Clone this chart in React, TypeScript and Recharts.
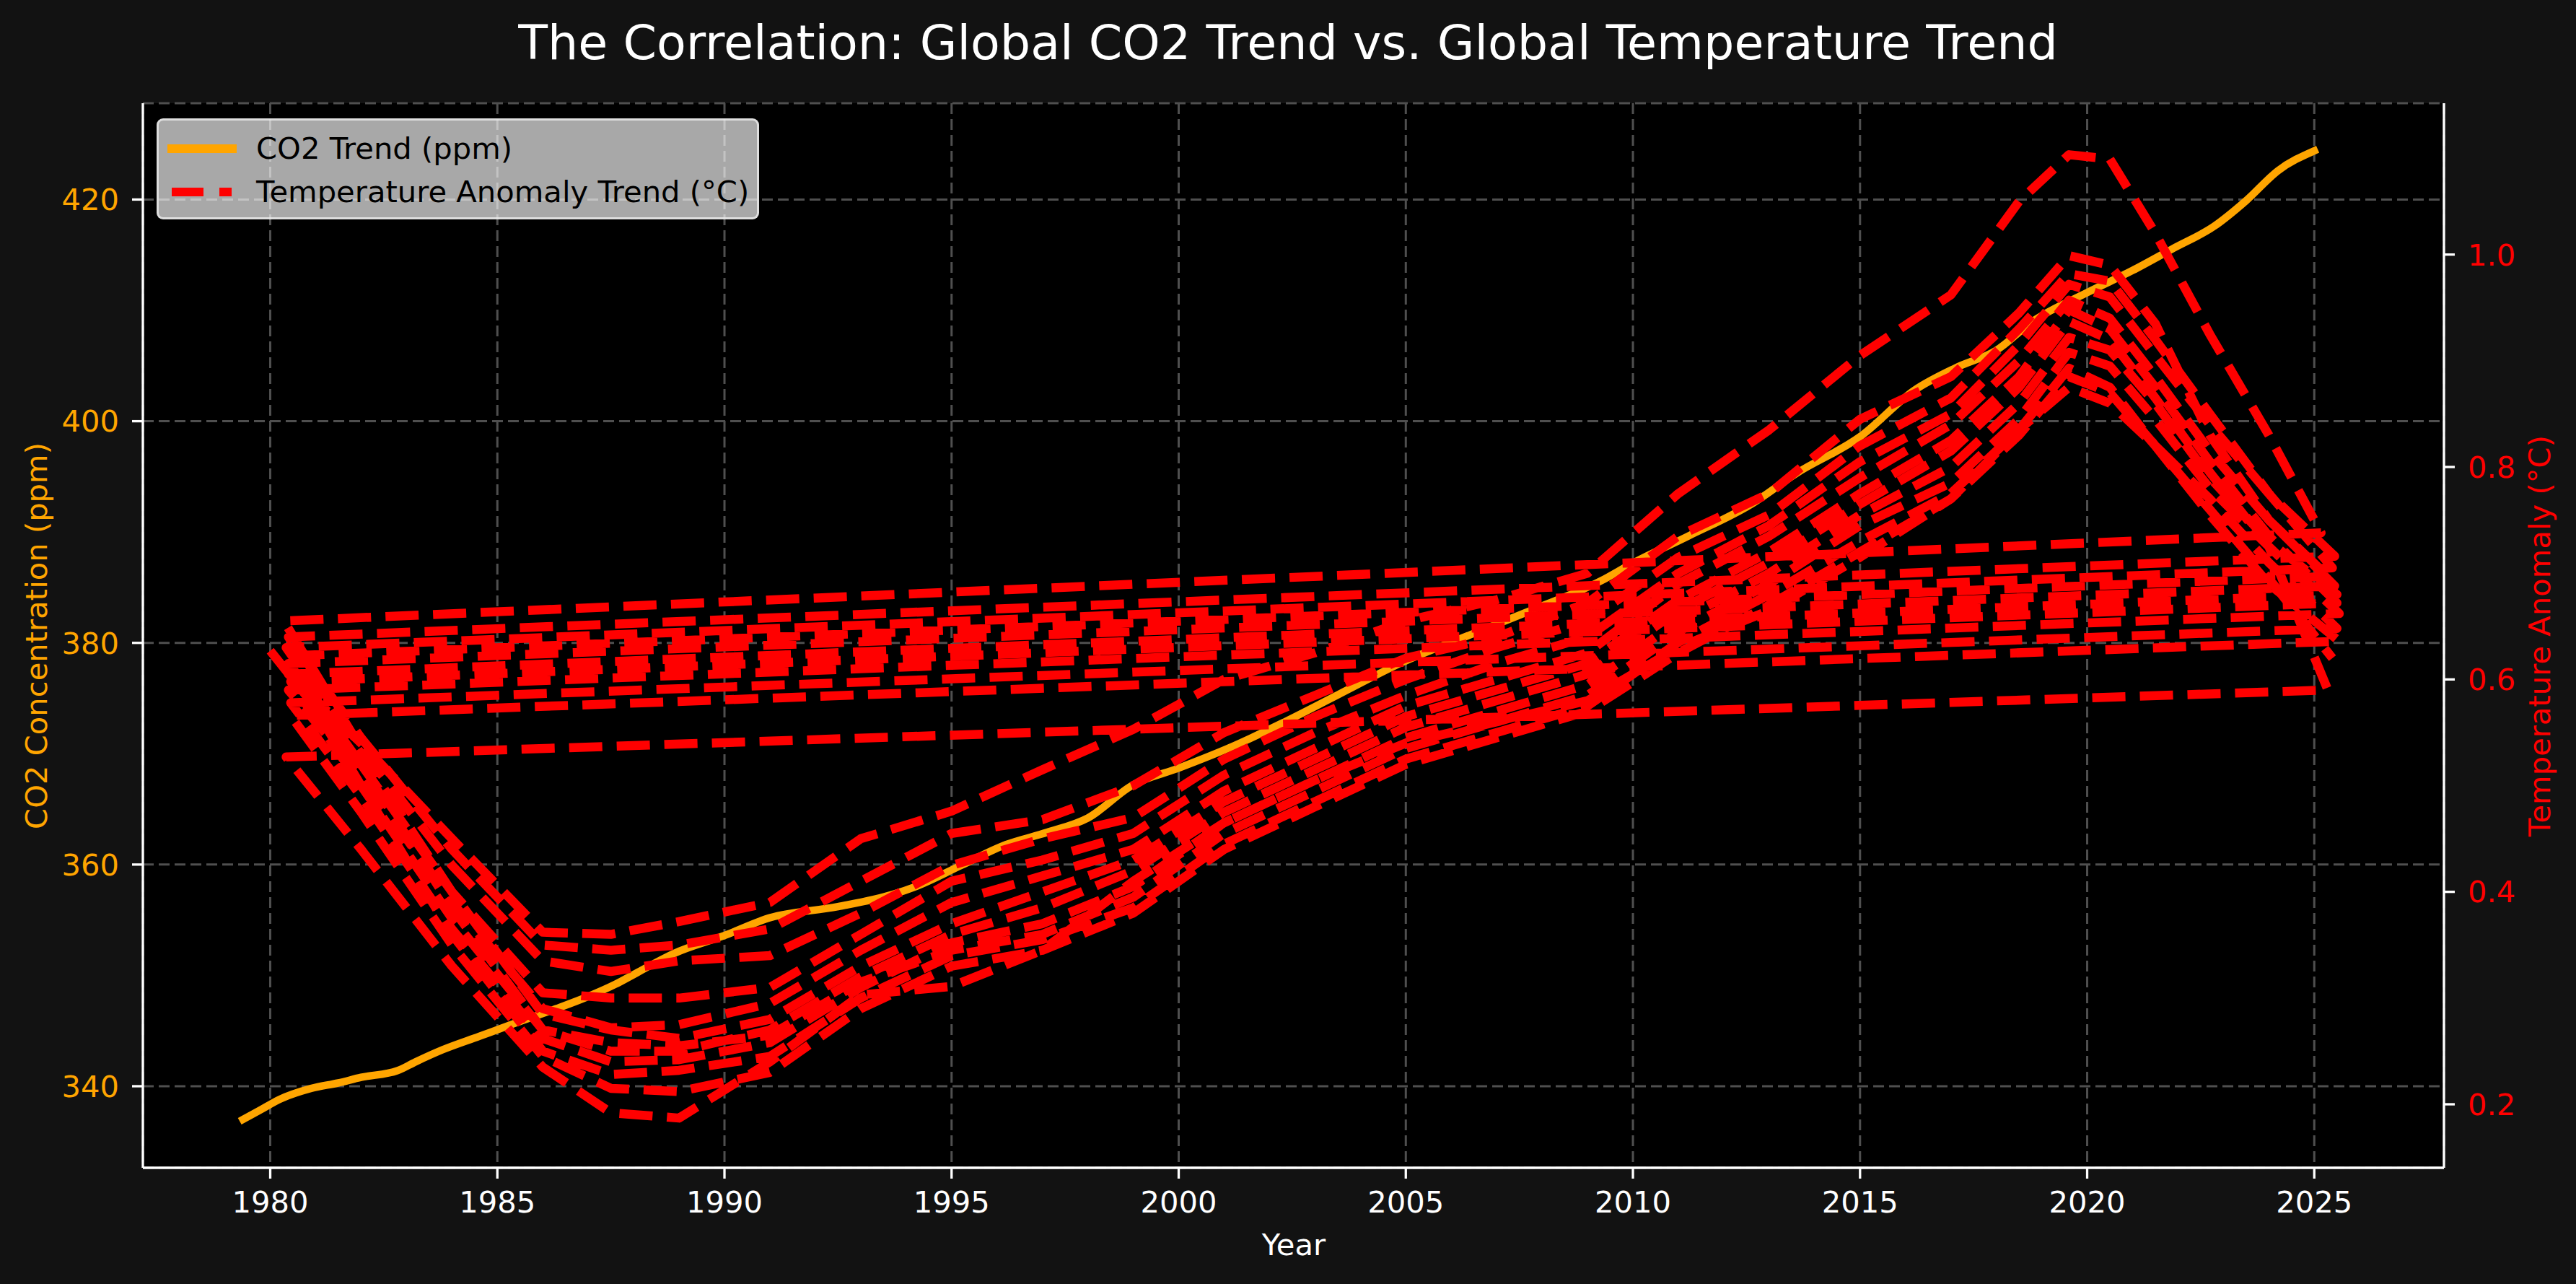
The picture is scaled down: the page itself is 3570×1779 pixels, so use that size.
import { CartesianGrid, Line, LineChart, XAxis, YAxis } from 'recharts'

// CO2 trend (ppm)
const co2Years = [
  1979.4, 1979.8, 1980.2, 1980.9, 1981.5, 1982.0, 1982.8, 1983.2, 1983.8, 1984.6, 1985.4, 1986.3, 1987.0, 1987.6,
  1988.1, 1988.9, 1990.0, 1991.0, 1992.5, 1993.7, 1994.2, 1995.2, 1996.2, 1997.1, 1998.0, 1999.0, 2000.0, 2001.1,
  2002.3, 2003.5, 2004.9, 2006.4, 2007.8, 2009.3, 2010.0, 2011.2, 2012.6, 2013.6, 2015.0, 2016.2, 2017.1, 2018.0,
  2018.8, 2020.0, 2021.0, 2021.9, 2022.8, 2023.5, 2024.2, 2025.0,
]
const co2Values = [
  337.0, 337.9, 338.8, 339.8, 340.3, 340.8, 341.4, 342.2, 343.3, 344.5, 345.7, 347.0, 348.1, 349.2,
  350.3, 352.0, 353.6, 355.2, 356.2, 357.3, 358.0, 359.9, 361.8, 362.9, 364.2, 367.2, 368.7, 370.5,
  372.8, 375.3, 378.2, 380.7, 383.0, 385.6, 387.2, 389.6, 392.5, 395.3, 398.6, 402.8, 404.8, 406.4,
  409.0, 411.6, 413.6, 415.6, 417.6, 419.9, 422.6, 424.4,
]

// temperature trend: the series runs 1980 -> 2025 twelve times, jumping back each time
const tempMidYears = [
  1982, 1984, 1986, 1987.5, 1989, 1991, 1993, 1995, 1997, 1999, 2001, 2003, 2005, 2007, 2009, 2011, 2013, 2015,
  2017, 2018.5, 2019.6, 2020.5, 2021.5, 2022.7, 2024,
]
const loopStartYears = [1980.0, 1980.4, 1980.3, 1980.35, 1980.45, 1980.4, 1980.3, 1980.35, 1980.45, 1980.4, 1980.4, 1980.45]
const loopEndYears = [2025.45, 2025.3, 2025.3, 2025.5, 2025.5, 2025.15, 2025.4, 2025.5, 2025.55, 2025.45, 2025.55, 2025.4]
// each row: start value, one value per tempMidYears entry, end value
const tempLoops = [
  [0.627, 0.52, 0.4, 0.305, 0.3, 0.3, 0.31, 0.36, 0.41, 0.43, 0.455, 0.51, 0.55, 0.585, 0.615, 0.64, 0.7, 0.745, 0.805, 0.85, 0.915, 0.972, 0.96, 0.905, 0.84, 0.775, 0.716],
  [0.64, 0.545, 0.44, 0.35, 0.345, 0.35, 0.365, 0.41, 0.455, 0.468, 0.5, 0.55, 0.585, 0.62, 0.64, 0.672, 0.735, 0.775, 0.845, 0.885, 0.945, 0.999, 0.99, 0.935, 0.83, 0.75, 0.697],
  [0.622, 0.52, 0.385, 0.27, 0.258, 0.255, 0.265, 0.315, 0.345, 0.36, 0.395, 0.455, 0.495, 0.535, 0.56, 0.585, 0.645, 0.69, 0.745, 0.785, 0.845, 0.908, 0.895, 0.845, 0.78, 0.725, 0.59],
  [0.527, 0.44, 0.33, 0.235, 0.192, 0.187, 0.24, 0.303, 0.311, 0.345, 0.41, 0.465, 0.505, 0.54, 0.56, 0.58, 0.63, 0.665, 0.715, 0.77, 0.835, 0.875, 0.86, 0.82, 0.77, 0.71, 0.648],
  [0.578, 0.49, 0.365, 0.262, 0.24, 0.242, 0.258, 0.31, 0.352, 0.37, 0.405, 0.465, 0.505, 0.545, 0.57, 0.595, 0.655, 0.7, 0.755, 0.8, 0.86, 0.922, 0.91, 0.86, 0.79, 0.73, 0.68],
  [0.605, 0.54, 0.45, 0.362, 0.36, 0.372, 0.39, 0.45, 0.476, 0.515, 0.553, 0.6, 0.625, 0.655, 0.675, 0.7, 0.775, 0.835, 0.905, 0.962, 1.05, 1.094, 1.09, 1.02, 0.925, 0.83, 0.738],
  [0.655, 0.535, 0.425, 0.335, 0.325, 0.335, 0.34, 0.38, 0.425, 0.45, 0.47, 0.525, 0.565, 0.6, 0.63, 0.655, 0.715, 0.755, 0.82, 0.865, 0.93, 0.982, 0.975, 0.92, 0.85, 0.775, 0.705],
  [0.63, 0.53, 0.4, 0.285, 0.27, 0.262, 0.28, 0.33, 0.37, 0.4, 0.43, 0.485, 0.525, 0.565, 0.59, 0.615, 0.675, 0.72, 0.775, 0.825, 0.885, 0.948, 0.93, 0.875, 0.805, 0.735, 0.672],
  [0.598, 0.5, 0.375, 0.27, 0.25, 0.25, 0.27, 0.32, 0.36, 0.385, 0.42, 0.475, 0.515, 0.555, 0.58, 0.605, 0.665, 0.71, 0.765, 0.815, 0.875, 0.937, 0.92, 0.865, 0.795, 0.725, 0.662],
  [0.59, 0.51, 0.39, 0.29, 0.272, 0.275, 0.295, 0.345, 0.39, 0.415, 0.44, 0.495, 0.535, 0.575, 0.6, 0.625, 0.69, 0.735, 0.79, 0.84, 0.9, 0.957, 0.94, 0.885, 0.815, 0.75, 0.688],
  [0.615, 0.5, 0.36, 0.25, 0.228, 0.232, 0.245, 0.3, 0.34, 0.355, 0.385, 0.445, 0.485, 0.525, 0.55, 0.575, 0.635, 0.68, 0.73, 0.775, 0.835, 0.893, 0.875, 0.82, 0.755, 0.69, 0.636],
  [0.566, 0.475, 0.35, 0.245, 0.215, 0.212, 0.23, 0.29, 0.33, 0.345, 0.38, 0.44, 0.48, 0.52, 0.545, 0.57, 0.625, 0.67, 0.72, 0.77, 0.83, 0.885, 0.87, 0.82, 0.76, 0.695, 0.62],
]

const yearTicks = [1980, 1985, 1990, 1995, 2000, 2005, 2010, 2015, 2020, 2025]
const co2Ticks = [340, 360, 380, 400, 420]
const tempTicks = [0.2, 0.4, 0.6, 0.8, 1.0]

const co2Data = co2Years.map((year, i) => ({ year, co2: co2Values[i] }))
const tempData = tempLoops.flatMap((loop, k) => {
  const years = [loopStartYears[k], ...tempMidYears, loopEndYears[k]]
  return loop.map((temp, i) => ({ year: years[i], temp }))
})

const W = 3570
const H = 1779
const FONT = "'DejaVu Sans', 'Liberation Sans', sans-serif"
const FS = 41.7

export default function App() {
  return (
    <div style={{ position: 'absolute', left: 0, top: 0, width: W, height: H, background: '#121212', overflow: 'hidden', fontFamily: FONT }}>
      <LineChart width={W} height={H} margin={{ top: 143, right: 0, bottom: 0, left: 0 }}>
        <CartesianGrid yAxisId='co2' fill='#000000' fillOpacity={1} stroke='#4f4f4f' strokeWidth={3} strokeDasharray='15 7' />
        <XAxis
          dataKey='year'
          type='number'
          domain={[1977.196, 2027.855]}
          allowDataOverflow
          ticks={yearTicks}
          interval={0}
          height={161}
          stroke='#ffffff'
          axisLine={{ stroke: '#ffffff', strokeWidth: 3.3 }}
          tickLine={{ stroke: '#ffffff', strokeWidth: 3.3 }}
          tickSize={15}
          tickMargin={17}
          tick={{ fill: '#ffffff', fontSize: FS, fontFamily: FONT }}
        />
        <XAxis
          xAxisId='top'
          orientation='top'
          dataKey='year'
          type='number'
          domain={[1977.196, 2027.855]}
          allowDataOverflow
          height={0}
          tick={false}
          tickLine={false}
          axisLine={{ stroke: '#ffffff', strokeWidth: 3.3 }}
        />
        <YAxis
          yAxisId='co2'
          domain={[332.64, 428.69]}
          allowDataOverflow
          ticks={co2Ticks}
          interval={0}
          width={198}
          axisLine={{ stroke: '#ffffff', strokeWidth: 3.3 }}
          tickLine={{ stroke: '#ffffff', strokeWidth: 3.3 }}
          tickSize={15}
          tickMargin={18}
          tick={{ fill: '#FFA500', fontSize: FS, fontFamily: FONT }}
        />
        <YAxis
          yAxisId='temp'
          orientation='right'
          domain={[0.1402, 1.1425]}
          allowDataOverflow
          ticks={tempTicks}
          interval={0}
          width={183}
          axisLine={{ stroke: '#ffffff', strokeWidth: 3.3 }}
          tickLine={{ stroke: '#ffffff', strokeWidth: 3.3 }}
          tickSize={15}
          tickMargin={18}
          tickFormatter={(v: number) => v.toFixed(1)}
          tick={{ fill: '#FF0000', fontSize: FS, fontFamily: FONT }}
        />
        <Line
          data={co2Data}
          yAxisId='co2'
          dataKey='co2'
          type='monotone'
          stroke='#FFA500'
          strokeWidth={10.4}
          strokeLinejoin='round'
          strokeLinecap='square'
          dot={false}
          activeDot={false}
          isAnimationActive={false}
        />
        <Line
          data={tempData}
          yAxisId='temp'
          dataKey='temp'
          type='linear'
          stroke='#FF0000'
          strokeWidth={12.5}
          strokeDasharray='46 20'
          strokeLinejoin='round'
          strokeLinecap='butt'
          dot={false}
          activeDot={false}
          isAnimationActive={false}
        />
      </LineChart>

      <svg width={W} height={H} style={{ position: 'absolute', left: 0, top: 0, pointerEvents: 'none' }}>
        <text x={1785} y={82} textAnchor='middle' fill='#ffffff' fontSize={66.7} fontFamily={FONT}>
          The Correlation: Global CO2 Trend vs. Global Temperature Trend
        </text>
        <text x={1793} y={1739} textAnchor='middle' fill='#ffffff' fontSize={FS} fontFamily={FONT}>
          Year
        </text>
        <text x={0} y={0} transform='translate(65 881) rotate(-90)' textAnchor='middle' fill='#FFA500' fontSize={FS} fontFamily={FONT}>
          CO2 Concentration (ppm)
        </text>
        <text x={0} y={0} transform='translate(3534 881) rotate(-90)' textAnchor='middle' fill='#FF0000' fontSize={FS} fontFamily={FONT}>
          Temperature Anomaly (°C)
        </text>
      </svg>

      <div
        style={{
          position: 'absolute',
          left: 217,
          top: 164,
          width: 835,
          height: 140,
          boxSizing: 'border-box',
          background: 'rgba(255,255,255,0.66)',
          border: '3px solid rgba(235,235,235,0.8)',
          borderRadius: 9,
          fontFamily: FONT,
          fontSize: FS,
          color: '#000000',
        }}
      >
        <div style={{ position: 'absolute', left: 12, top: 33, width: 96, height: 12, background: '#FFA500' }} />
        <div style={{ position: 'absolute', left: 135, top: 14, lineHeight: '50px', whiteSpace: 'nowrap' }}>CO2 Trend (ppm)</div>
        <div style={{ position: 'absolute', left: 18, top: 93, width: 44, height: 12, background: '#FF0000' }} />
        <div style={{ position: 'absolute', left: 84, top: 93, width: 17, height: 12, background: '#FF0000' }} />
        <div style={{ position: 'absolute', left: 135, top: 74, lineHeight: '50px', whiteSpace: 'nowrap' }}>Temperature Anomaly Trend (°C)</div>
      </div>
    </div>
  )
}
